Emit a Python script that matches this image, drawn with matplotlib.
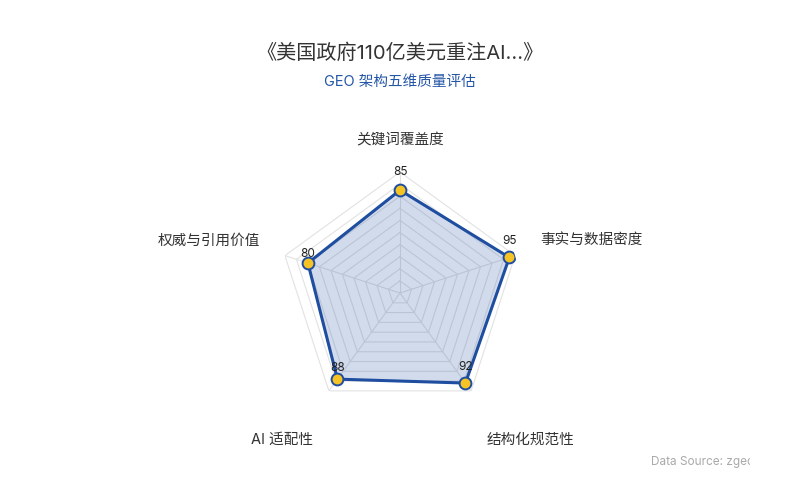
import numpy as np
import matplotlib.pyplot as plt
from matplotlib.patches import Rectangle

plt.rcParams['font.family'] = ['Inter', 'Noto Sans CJK SC', 'DejaVu Sans']

title = "《美国政府110亿美元重注AI...》"
subtitle = "GEO 架构五维质量评估"
dimensions = ["关键词覆盖度", "事实与数据密度", "结构化规范性", "AI 适配性", "权威与引用价值"]
scores = [85, 95, 92, 88, 80]
max_score = 100
source = "Data Source: zgeo"

# 标签的像素偏移（相对于满分顶点）和对齐方式
label_offsets = [(0, 32), (25, 16), (15, -49), (-16, -49), (-25, 15)]
label_ha = ["center", "left", "left", "right", "right"]
value_dy = [18, 16, 16, 11, 9]

fig = plt.figure(figsize=(8, 5), dpi=100)
ax = fig.add_axes([0.34875, 0.172, 0.3025, 0.484], projection='polar')
ax.set_theta_offset(np.pi / 2)
ax.set_theta_direction(-1)
ax.set_ylim(0, max_score)
ax.grid(False)
ax.spines['polar'].set_visible(False)
ax.set_xticks([])
ax.set_yticks([])
ax.patch.set_alpha(0)

n = len(dimensions)
angles = np.linspace(0, 2 * np.pi, n, endpoint=False)
closed = np.append(angles, angles[0])

# 五边形网格
for r in range(10, max_score + 1, 10):
    ax.plot(closed, [r] * (n + 1), color='#e2e2e2', lw=0.8, zorder=1)
for a in angles:
    ax.plot([a, a], [0, max_score], color='#e2e2e2', lw=0.8, zorder=1)

vals = scores + scores[:1]
ax.fill(closed, vals, color='#1f4ea0', alpha=0.2, zorder=2)
ax.plot(closed, vals, color='#1f4ea0', lw=2.2, zorder=3)
ax.plot(angles, scores, 'o', ms=8.5, mfc='#f5c324', mec='#1f4ea0', mew=1.4, zorder=4)

for a, v, dy in zip(angles, scores, value_dy):
    ax.annotate(str(v), (a, v), xytext=(0, dy), textcoords='offset pixels',
                ha='center', va='center', fontsize=8.5, color='#222222', zorder=5)

for a, name, off, ha in zip(angles, dimensions, label_offsets, label_ha):
    ax.annotate(name, (a, max_score), xytext=off, textcoords='offset pixels',
                ha=ha, va='center', fontsize=10.5, color='#333333',
                annotation_clip=False)

fig.text(0.5, 0.894, title, ha='center', va='center', fontsize=14.5, color='#333333')
fig.text(0.5, 0.836, subtitle, ha='center', va='center', fontsize=10.5, color='#2456a6')

fig.text(0.814, 0.076, source, ha='left', va='center', fontsize=8.5, color='#aaaaaa', zorder=3)
# 右侧截断
fig.patches.append(Rectangle((750 / 800, 0.03), 0.1, 0.1, transform=fig.transFigure,
                             facecolor='white', edgecolor='none', zorder=10))

fig.savefig('out.png', dpi=100, facecolor='white')
